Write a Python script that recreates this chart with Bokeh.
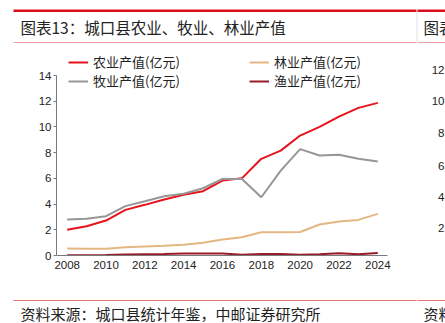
from bokeh.plotting import figure
from bokeh.models import Legend, LegendItem, Label, BoxAnnotation, FixedTicker
from bokeh.layouts import column
from bokeh.embed import file_html
from bokeh.resources import INLINE

years = list(range(2008, 2025))
agri = [2.0, 2.28, 2.72, 3.55, 3.94, 4.35, 4.72, 5.0, 5.83, 6.0, 7.52, 8.16, 9.33, 10.0, 10.8, 11.48, 11.87]
animal = [2.8, 2.85, 3.06, 3.84, 4.22, 4.61, 4.8, 5.23, 5.95, 5.95, 4.53, 6.6, 8.27, 7.78, 7.83, 7.52, 7.31]
forest = [0.54, 0.53, 0.52, 0.65, 0.7, 0.75, 0.83, 1.0, 1.24, 1.42, 1.81, 1.8, 1.83, 2.41, 2.64, 2.77, 3.24]
fish = [0.02, 0.02, 0.03, 0.07, 0.1, 0.12, 0.15, 0.15, 0.15, 0.05, 0.12, 0.12, 0.05, 0.1, 0.18, 0.1, 0.2]
y_ticks = [0, 2, 4, 6, 8, 10, 12, 14]
x_ticks = list(range(2008, 2025, 2))
names = ["农业产值(亿元)", "牧业产值(亿元)", "林业产值(亿元)", "渔业产值(亿元)"]
title_text = "图表13：城口县农业、牧业、林业产值"
source_text = "资料来源：城口县统计年鉴，中邮证券研究所"
side_ticks = ["12", "10", "8", "6", "4", "2"]

W = 445
TOP_H, MAIN_H, BOT_H = 55, 235, 33
cjk = "Noto Sans CJK SC"
num_font = "Liberation Sans"
txt_color = "#222222"


def blank_fig(h):
    f = figure(width=W, height=h, output_backend="svg", toolbar_location=None,
               x_axis_location=None, y_axis_location=None,
               min_border=0, min_border_left=0, min_border_right=0,
               min_border_top=0, min_border_bottom=0,
               x_range=(0, 1), y_range=(0, 1), frame_align=False)
    f.outline_line_color = None
    f.grid.visible = False
    return f


def hbar(f, x0, x1, y0, y1, color, fh):
    f.add_layout(BoxAnnotation(left=x0, right=x1, top=fh - y0, bottom=fh - y1,
                               left_units="screen", right_units="screen",
                               top_units="screen", bottom_units="screen",
                               fill_color=color, fill_alpha=1, line_color=None))


def lab(f, text, x, y, size, fh, align="left", font=cjk, x0=0):
    f.add_layout(Label(x=x - x0, y=fh - y, x_units="screen", y_units="screen", text=text,
                       text_font=font, text_font_size=size, text_color=txt_color,
                       text_align=align, text_baseline="middle"))


# ---------- top strip ----------
top = blank_fig(TOP_H)
hbar(top, 13, 416, 9, 11.5, "#d9101c", TOP_H)
hbar(top, 417, 445, 9, 11.5, "#d9101c", TOP_H)
hbar(top, 13, 416, 41.5, 42.5, "#eaa0a0", TOP_H)
hbar(top, 417, 445, 41.5, 42.5, "#eaa0a0", TOP_H)
hbar(top, 416, 417, 11.5, 41.5, "#e2e2e2", TOP_H)
lab(top, title_text, 20, 26, "15.5px", TOP_H)
lab(top, "图表", 423, 26, "15.5px", TOP_H)

# ---------- main chart ----------
L = 56
AX_BOTTOM = 255 - TOP_H   # y of x axis inside main figure
FRAME_H = AX_BOTTOM       # frame spans from figure top to the x axis
px_per_unit = 180 / 14.0
y_end = FRAME_H / px_per_unit
px_per_year = 331 / (2024.5 - 2007.45)
x_end = 2024.5 + (W - 387) / px_per_year

p = figure(width=W, height=MAIN_H, output_backend="svg", toolbar_location=None,
           x_range=(2007.45, x_end), y_range=(0, y_end),
           min_border_left=L, min_border_right=0, min_border_top=0,
           min_border_bottom=MAIN_H - AX_BOTTOM, frame_align=False)
p.outline_line_color = None
p.grid.visible = False

for ax in (p.xaxis[0], p.yaxis[0]):
    ax.axis_line_color = "#7a7a7a"
    ax.axis_line_width = 1
    ax.major_tick_line_color = "#7a7a7a"
    ax.minor_tick_line_color = None
    ax.major_label_text_font = num_font
    ax.major_label_text_font_size = "11.5px"
    ax.major_label_text_color = txt_color
p.yaxis.ticker = FixedTicker(ticks=y_ticks)
p.yaxis.bounds = (0, 14)
p.yaxis.major_tick_out = 3
p.yaxis.major_tick_in = 0
p.yaxis.major_label_standoff = 2
p.xaxis.ticker = FixedTicker(ticks=x_ticks)
p.xaxis.bounds = (2007.45, 2024.5)
p.xaxis.major_tick_out = 0
p.xaxis.major_tick_in = 0
p.xaxis.major_label_standoff = 5

colors = ["#e8121c", "#969696", "#e4b682", "#9b1b2b"]
series = [agri, animal, forest, fish]
rends = [p.line(years, s, line_color=c, line_width=2) for s, c in zip(series, colors)]


def mk_legend(items, x):
    return Legend(items=items, location=(x, AX_BOTTOM - 90 + TOP_H), orientation="vertical",
                  padding=0, margin=0, spacing=0, glyph_width=20, glyph_height=14,
                  label_standoff=5, label_text_font=cjk, label_text_font_size="13px",
                  label_text_color=txt_color, background_fill_alpha=0, border_line_color=None,
                  label_height=14)


p.add_layout(mk_legend([LegendItem(label=names[0], renderers=[rends[0]]),
                        LegendItem(label=names[1], renderers=[rends[1]])], 68 - L), "center")
p.add_layout(mk_legend([LegendItem(label=names[2], renderers=[rends[2]]),
                        LegendItem(label=names[3], renderers=[rends[3]])], 249 - L), "center")

side_y = [69, 100, 132, 165, 196, 227]
for t, yy in zip(side_ticks, side_y):
    lab(p, t, 444, yy - TOP_H, "11.5px", AX_BOTTOM, align="right", font=num_font, x0=L)

# ---------- bottom strip ----------
bot = blank_fig(BOT_H)
hbar(bot, 13, 416, 299.5 - 290, 300.5 - 290, "#e47070", BOT_H)
hbar(bot, 417, 445, 299.5 - 290, 300.5 - 290, "#e47070", BOT_H)
lab(bot, source_text, 20, 313 - 290, "15px", BOT_H)
lab(bot, "资料", 423, 313 - 290, "15px", BOT_H)

layout = column(top, p, bot, spacing=0)
open("out.html", "w").write(file_html(layout, INLINE))
